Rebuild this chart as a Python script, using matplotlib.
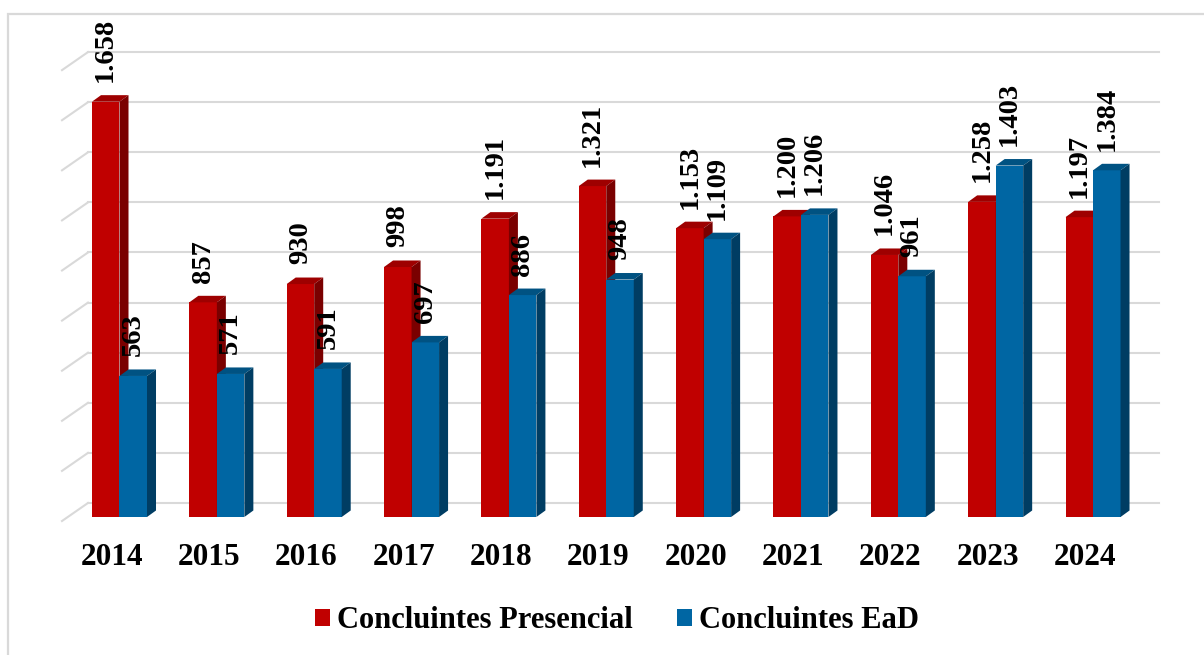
import matplotlib
matplotlib.use("Agg")
import matplotlib.pyplot as plt
from matplotlib.patches import Polygon, Rectangle, Patch

# ---- data ----
years = ["2014", "2015", "2016", "2017", "2018", "2019", "2020", "2021", "2022", "2023", "2024"]
presencial = [1658, 857, 930, 998, 1191, 1321, 1153, 1200, 1046, 1258, 1197]
ead = [563, 571, 591, 697, 886, 948, 1109, 1206, 961, 1403, 1384]
series_names = ["Concluintes Presencial", "Concluintes EaD"]
grid_values = [0, 200, 400, 600, 800, 1000, 1200, 1400, 1600, 1800]

# ---- style / layout ----
W, H = 1204, 655
FONT = "Liberation Serif"
red = dict(front="#C00000", top="#9E0000", side="#7A0000")
blue = dict(front="#0066A3", top="#005282", side="#003D63")
grid_color = "#D9D9D9"

bar_w = 0.2825      # category units
dx, dy = 0.0925, 26  # 3D depth offset (x units, value units)
back_dy = 56         # back wall offset of gridlines
wall_left_front, wall_left_back, wall_right = -0.5906, -0.3236, 10.678
front_dy = -16

def fmt(v):
    return f"{v:,}".replace(",", ".")

fig = plt.figure(figsize=(W / 100, H / 100), dpi=100)
ax = fig.add_axes([0, 0, 1, 1])
ax.set_xlim(-1.2275, 11.140)
ax.set_ylim(-550.9, 2063.9)
ax.axis("off")

# outer frame
fig.add_artist(Rectangle((8 / W, -0.1), 1.2, (H - 14) / H + 0.1, transform=fig.transFigure,
                         fill=False, edgecolor=grid_color, lw=1.6))

# gridlines (back wall + left wall diagonals)
for g in grid_values:
    ax.plot([wall_left_back, wall_right], [g + back_dy, g + back_dy], color=grid_color, lw=1.5, zorder=1)
    ax.plot([wall_left_front, wall_left_back], [g + front_dy, g + back_dy], color=grid_color, lw=1.5, zorder=1)

def bar3d(x0, h, c, z):
    x1 = x0 + bar_w
    ax.bar(x0, h, width=bar_w, align="edge", color=c["front"], linewidth=0, zorder=z)
    ax.add_patch(Polygon([(x0, h), (x1, h), (x1 + dx, h + dy), (x0 + dx, h + dy)],
                         closed=True, facecolor=c["top"], edgecolor="none", zorder=z))
    ax.add_patch(Polygon([(x1, 0), (x1 + dx, dy), (x1 + dx, h + dy), (x1, h)],
                         closed=True, facecolor=c["side"], edgecolor="none", zorder=z))

for i, (p, e) in enumerate(zip(presencial, ead)):
    bar3d(i - bar_w, p, red, 3 + i * 2)
    bar3d(i, e, blue, 4 + i * 2)
    ax.text(i - bar_w / 2, p + 78, fmt(p), rotation=90, ha="center", va="bottom",
            fontsize=20.5, fontweight="bold", family=FONT, zorder=50)
    ax.text(i + bar_w / 2, e + 78, fmt(e), rotation=90, ha="center", va="bottom",
            fontsize=20.5, fontweight="bold", family=FONT, zorder=50)
    ax.text(i - 0.08, -160, years[i], ha="center", va="center",
            fontsize=22.5, fontweight="bold", family=FONT)

handles = [Patch(facecolor=red["front"], label=series_names[0]),
           Patch(facecolor=blue["front"], label=series_names[1])]
fig.legend(handles=handles, loc="center", bbox_to_anchor=(617 / W, 1 - 621 / H), ncol=2,
           frameon=False, handlelength=0.49, handleheight=0.49, handletextpad=0.23,
           columnspacing=1.45, prop=dict(family=FONT, weight="bold", size=22))

fig.savefig("out.png", dpi=100)
